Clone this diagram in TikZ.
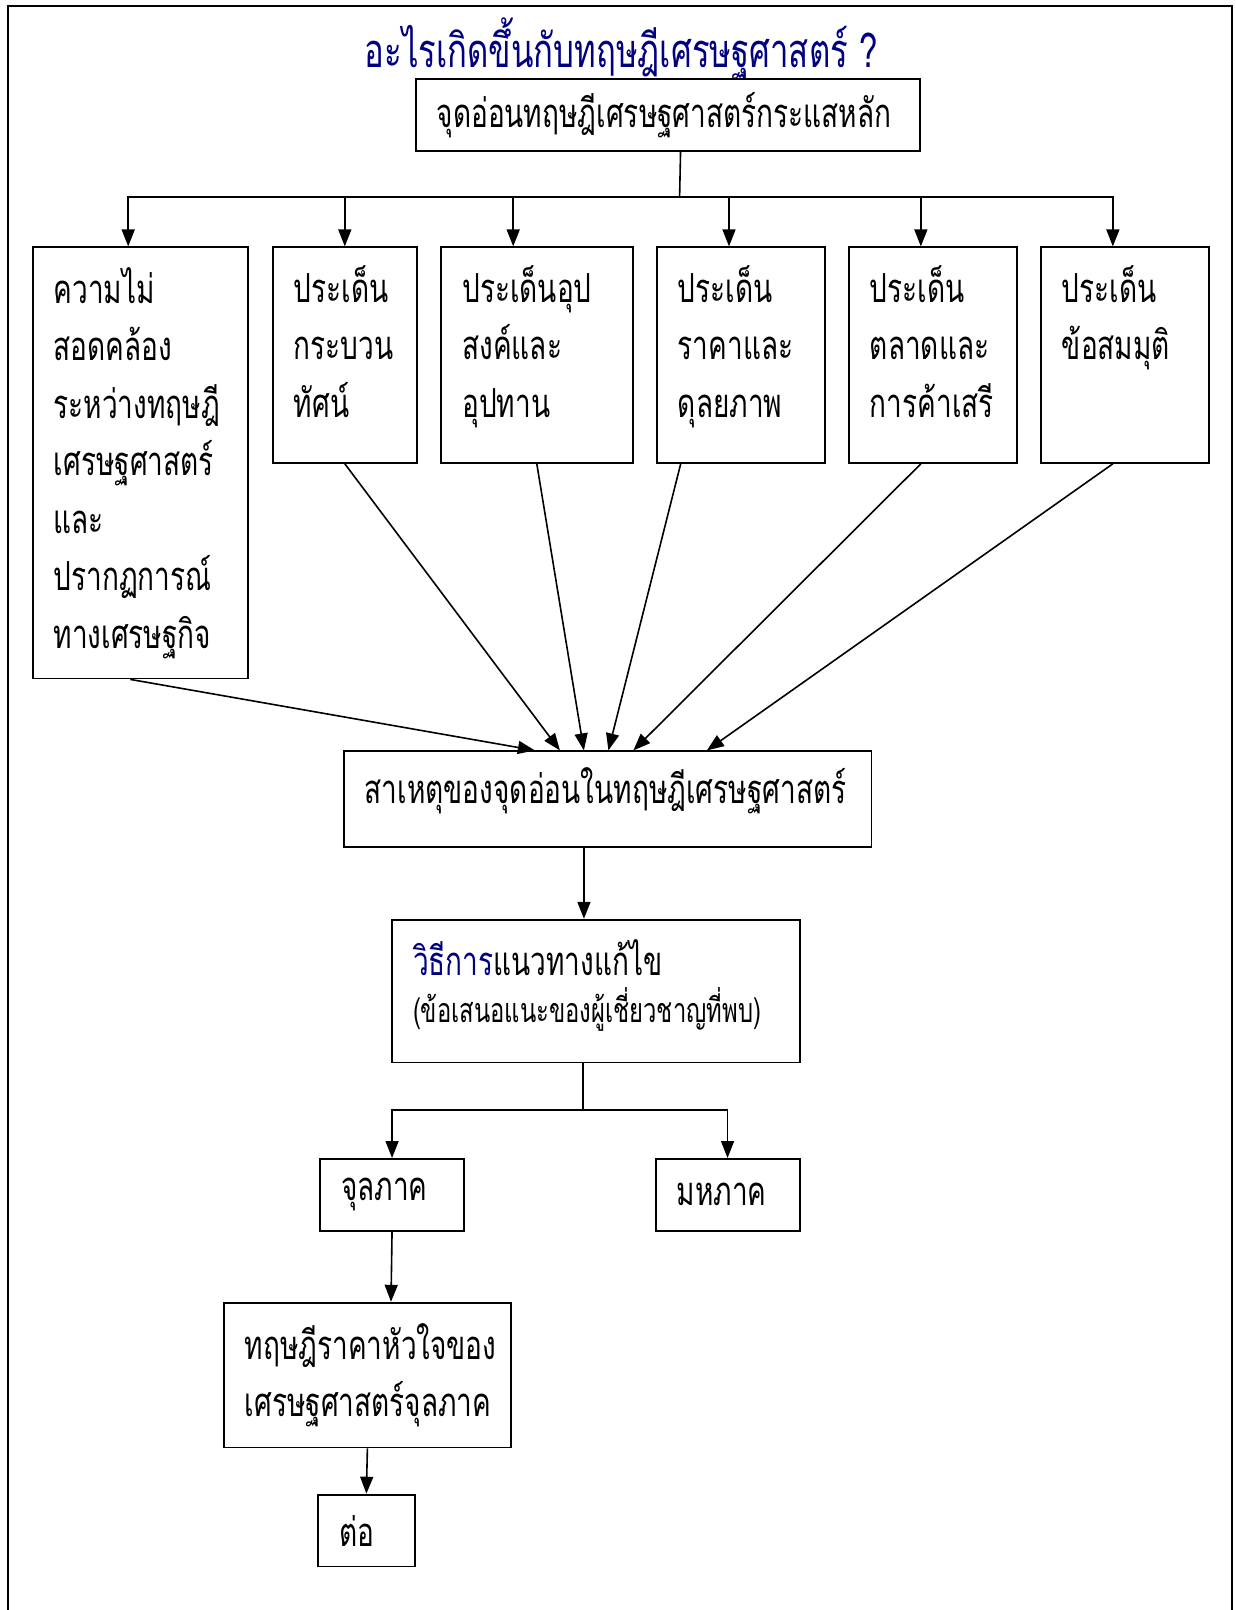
\documentclass[tikz,border=0pt]{standalone}
\usepackage{fontspec}
\usepackage{tikz}
\usetikzlibrary{arrows.meta}
\newfontfamily\thaifont[Script=Thai,FakeStretch=0.70]{Loma}
\definecolor{TituloAzul}{HTML}{000080}
\newcommand{\cuerpo}{\thaifont\fontsize{40}{57.5}\selectfont}
\newcommand{\hueco}[1]{\\[#1]\mbox{}}
\tikzset{
  caja/.style={draw,line width=1.8pt,anchor=north west,inner xsep=21pt,inner ysep=0pt,
    align=left,font=\cuerpo,text width=#1},
  conn/.style={line width=1.6pt},
  flecha/.style={conn,-{Triangle[length=17pt,width=13pt]}}
}
\begin{document}
\begin{tikzpicture}[x=1pt,y=-1pt]
\useasboundingbox (0,0) rectangle (1235,1610);
\draw[line width=2.6pt] (8,1612)--(8,6)--(1232,6)--(1232,1612);
\node[font=\thaifont\fontsize{47}{56}\selectfont,text=TituloAzul] (tit) at (621,49) {อะไรเกิดขึ้นกับทฤษฎีเศรษฐศาสตร์ ?};
\node[caja=462.1pt,minimum height=71.9pt] (tb) at (414.7,78) {จุดอ่อนทฤษฎีเศรษฐศาสตร์กระแสหลัก};
% fila de aspectos
\node[caja=173.6pt,minimum height=431.2pt] (b1) at (31.8,246.4) {ความไม่\\สอดคล้อง\\ระหว่างทฤษฎี\\เศรษฐศาสตร์\\และ\\ปรากฏการณ์\\ทางเศรษฐกิจ};
\node[caja=101.8pt,minimum height=215.6pt] (b2) at (272,246.4) {ประเด็น\\กระบวน\\ทัศน์\hueco{-30pt}};
\node[caja=150pt,minimum height=215.6pt] (b3) at (440.4,246.4) {ประเด็นอุป\\สงค์และ\\อุปทาน\hueco{-30pt}};
\node[caja=126.4pt,minimum height=215.6pt] (b4) at (656,246.4) {ประเด็น\\ราคาและ\\ดุลยภาพ\hueco{-30pt}};
\node[caja=126.3pt,minimum height=215.6pt] (b5) at (848,246.4) {ประเด็น\\ตลาดและ\\การค้าเสรี\hueco{-30pt}};
\node[caja=126.3pt,minimum height=215.6pt] (b6) at (1040,246.4) {ประเด็น\\ข้อสมมุติ\hueco{0pt}\hueco{-30pt}};
\coordinate (bus) at (679.6,197.1);
\draw[conn] ([xshift=12.9pt]tb.south)--(bus);
\foreach \n/\s in {b1/-12.3,b2/0,b3/-24.1,b4/-12.1,b5/-12.2,b6/-12.2}
  \draw[flecha] (bus) -| ([xshift=\s pt]\n.north);
% causa
\node[caja=485.7pt,minimum height=95.5pt] (cb) at (342.9,750.4) {สาเหตุของจุดอ่อนในทฤษฎีเศรษฐศาสตร์\hueco{-30pt}};
\foreach \n/\s/\t in {b1/-10.2/192,b2/0/217,b3/-0.5/241,b4/-60.4/265.5,b5/-12.2/290.5,b6/-12.2/364}
  \draw[flecha] ([xshift=\s pt]\n.south) -- ([xshift=\t pt]cb.north west);
% solucion
\node[caja=365.6pt,minimum height=142.7pt] (sb) at (391.1,918.8) {\textcolor{TituloAzul}{วิธีการ}แนวทางแก้ไข\\[-10pt]{\fontsize{34}{50}\selectfont(ข้อเสนอแนะของผู้เชี่ยวชาญที่พบ)}\hueco{-37pt}};
\coordinate (baja) at ([xshift=-23.7pt]cb.south);
\draw[flecha] (baja) -- (baja |- sb.north);
\node[caja=101.7pt,minimum height=71.9pt] (mi) at (319.3,1158) {จุลภาค};
\node[caja=101.7pt,minimum height=71.9pt] (ma) at (655,1158) {มหภาค};
\coordinate (fork) at (583.1,1109.8);
\draw[conn] (sb.south -| fork)--(fork);
\draw[flecha] (fork) -| (mi.north);
\draw[flecha] (fork) -| ([xshift=-0.2pt]ma.north);
\node[caja=245.4pt,minimum height=144.7pt] (th) at (222.8,1301.8) {ทฤษฎีราคาหัวใจของ\\เศรษฐศาสตร์จุลภาค};
\draw[flecha] (mi.south) -- ([xshift=23.6pt]th.north);
\node[caja=54.5pt,minimum height=71.9pt] (to) at (317.2,1493.7) {ต่อ};
\draw[flecha] (th.south) -- (to.north);
\end{tikzpicture}
\end{document}
